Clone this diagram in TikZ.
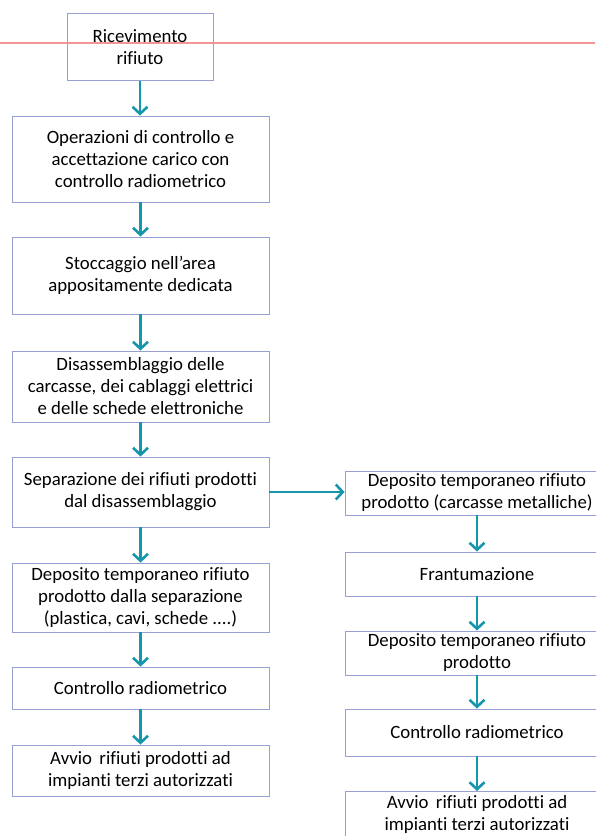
\documentclass[tikz,border=0pt]{standalone}
\usepackage{fontspec}
\setmainfont[Ligatures=NoCommon]{Carlito}
\usetikzlibrary{arrows.meta}
\definecolor{boxline}{RGB}{150,160,210}
\definecolor{arrcol}{RGB}{22,150,172}
\definecolor{redline}{RGB}{242,150,150}
\begin{document}
\begin{tikzpicture}[x=1pt,y=-1pt,
  box/.style={draw=boxline,line width=0.9pt,align=center,inner sep=2pt,
    font=\fontsize{18.8}{22}\selectfont,text=black},
  lbox/.style={box,minimum width=257pt},
  rbox/.style={box,minimum width=264pt},
  arr/.style={draw=arrcol,line width=2.8pt,-{Straight Barb[length=7pt,width=15pt,line width=2.6pt]}}]
\useasboundingbox (0,0) rectangle (595,836);
\fill[white] (0,0) rectangle (595,836);
\coordinate (rl) at (0,43);
\coordinate (rr) at (595,43);
\draw[redline,line width=1.8pt] (rl) -- (rr);
% left column
\node[box,minimum width=146pt,minimum height=67pt] (b1) at (140,47) {Ricevimento\\rifiuto};
\node[lbox,minimum height=86pt] (b2) at (140.5,159) {Operazioni di controllo e\\accettazione carico con\\controllo radiometrico};
\node[lbox,minimum height=77pt] (b3) at (140.5,275.5) {Stoccaggio nell’area\\appositamente dedicata};
\node[lbox,minimum height=71pt] (b4) at (140.5,386.5) {Disassemblaggio delle\\carcasse, dei cablaggi elettrici\\e delle schede elettroniche};
\node[lbox,minimum height=70pt] (b5) at (140.5,492) {Separazione dei rifiuti prodotti\\dal disassemblaggio};
\node[lbox,minimum height=69pt] (b6) at (140.5,597.5) {Deposito temporaneo rifiuto\\prodotto dalla separazione\\(plastica, cavi, schede ....)};
\node[lbox,minimum height=42pt] (b7) at (140.5,688) {Controllo radiometrico};
\node[lbox,minimum height=51pt] (b8) at (140.5,770.5) {Avvio\, rifiuti prodotti ad\\impianti terzi autorizzati};
% right column
\node[rbox,minimum height=44pt] (r1) at (477,493) {Deposito temporaneo rifiuto\\prodotto (carcasse metalliche)};
\node[rbox,minimum height=44pt] (r2) at (477,574) {Frantumazione};
\node[rbox,minimum height=44pt] (r3) at (477,653) {Deposito temporaneo rifiuto\\prodotto};
\node[rbox,minimum height=47pt] (r4) at (477,732.5) {Controllo radiometrico};
\node[rbox,minimum height=46pt,anchor=north] (r5) at (477,791) {Avvio\, rifiuti prodotti ad\\impianti terzi autorizzati};
% arrows
\draw[arr] (b1.south) -- (b1.south |- b2.north);
\draw[arr] (b2.south) -- (b3.north);
\draw[arr] (b3.south) -- (b4.north);
\draw[arr] (b4.south) -- (b5.north);
\draw[arr] (b5.south) -- (b6.north);
\draw[arr] (b6.south) -- (b7.north);
\draw[arr] (b7.south) -- (b8.north);
\draw[arr] (b5.east) -- (b5.east -| r1.west);
\draw[arr] (r1.south) -- (r2.north);
\draw[arr] (r2.south) -- (r3.north);
\draw[arr] (r3.south) -- (r4.north);
\draw[arr] (r4.south) -- (r5.north);
\end{tikzpicture}
\end{document}
